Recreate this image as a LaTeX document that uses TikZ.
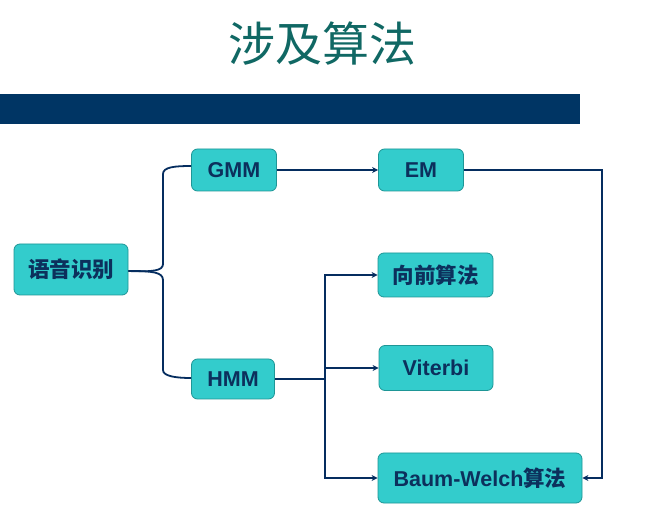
\documentclass[tikz,border=0pt]{standalone}
\usepackage{fontspec}
\setmainfont{Liberation Sans}
\newfontfamily\cjk{Noto Sans CJK SC}
\usetikzlibrary{arrows.meta,calc}
\definecolor{boxfill}{RGB}{51,204,204}
\definecolor{boxedge}{RGB}{30,150,150}
\definecolor{navytext}{RGB}{12,48,92}
\definecolor{wire}{RGB}{5,45,95}
\definecolor{bar}{RGB}{0,53,100}
\definecolor{titlecol}{RGB}{16,104,100}
\begin{document}
\begin{tikzpicture}[x=1pt,y=-1pt,
  algbox/.style={draw=boxedge,line width=0.8pt,fill=boxfill,rounded corners=6pt,
    text=navytext,font=\fontsize{21.5}{23}\selectfont\bfseries,inner sep=0pt,anchor=center},
  wireline/.style={draw=wire,line width=1.8pt},
  arrowline/.style={wireline,-{Stealth[length=6pt,width=6pt]}}]
\useasboundingbox (0,0) rectangle (662,521);
\fill[white] (0,0) rectangle (662,521);

% heading and banner
\node[text=titlecol,font=\cjk\fontsize{47}{50}\selectfont] (title) at (322,44) {涉及算法};
\fill[bar] (0,94) rectangle (580,124);

% boxes
\node[algbox,minimum width=114pt,minimum height=51pt] (speech) at (71,269.5) {\cjk 语音识别};
\node[algbox,minimum width=85pt,minimum height=42pt] (gmm) at (234,170) {GMM};
\node[algbox,minimum width=83pt,minimum height=40pt] (hmm) at (233,379) {HMM};
\node[algbox,minimum width=85pt,minimum height=42pt] (em) at (421,170) {EM};
\node[algbox,minimum width=115pt,minimum height=44pt] (fwd) at (435.5,275) {\cjk 向前算法};
\node[algbox,minimum width=114pt,minimum height=45pt] (vit) at (436,368) {Viterbi};
\node[algbox,minimum width=204pt,minimum height=50pt] (bw) at (480,478) {Baum-Welch{\cjk 算法}};

% brace from the root to the two models
\coordinate (braceTop) at (163,174);
\coordinate (braceBot) at (163,370);
\draw[wireline] ([yshift=-1.5pt]speech.east) .. controls (152,272) and (163,271) .. (163,264)
  -- (braceTop) .. controls (163,167) and (175,166) .. ([yshift=4pt]gmm.west);
\draw[wireline] ([yshift=-1.5pt]speech.east) .. controls (152,271) and (163,272) .. (163,280)
  -- (braceBot) .. controls (163,376) and (175,378) .. ([yshift=1pt]hmm.west);

% GMM to EM, EM back to Baum-Welch
\draw[arrowline] (gmm.east) -- (em.west);
\coordinate (emTurn) at (602,170);
\draw[arrowline] (em.east) -- (emTurn) |- (bw.east);

% HMM fan-out
\coordinate (fork) at (325,379);
\draw[wireline] (hmm.east) -- (fork);
\draw[arrowline] (fork) |- (fwd.west);
\draw[arrowline] (fork |- vit.west) -- (vit.west);
\draw[arrowline] (fork) |- (bw.west);
\end{tikzpicture}
\end{document}
